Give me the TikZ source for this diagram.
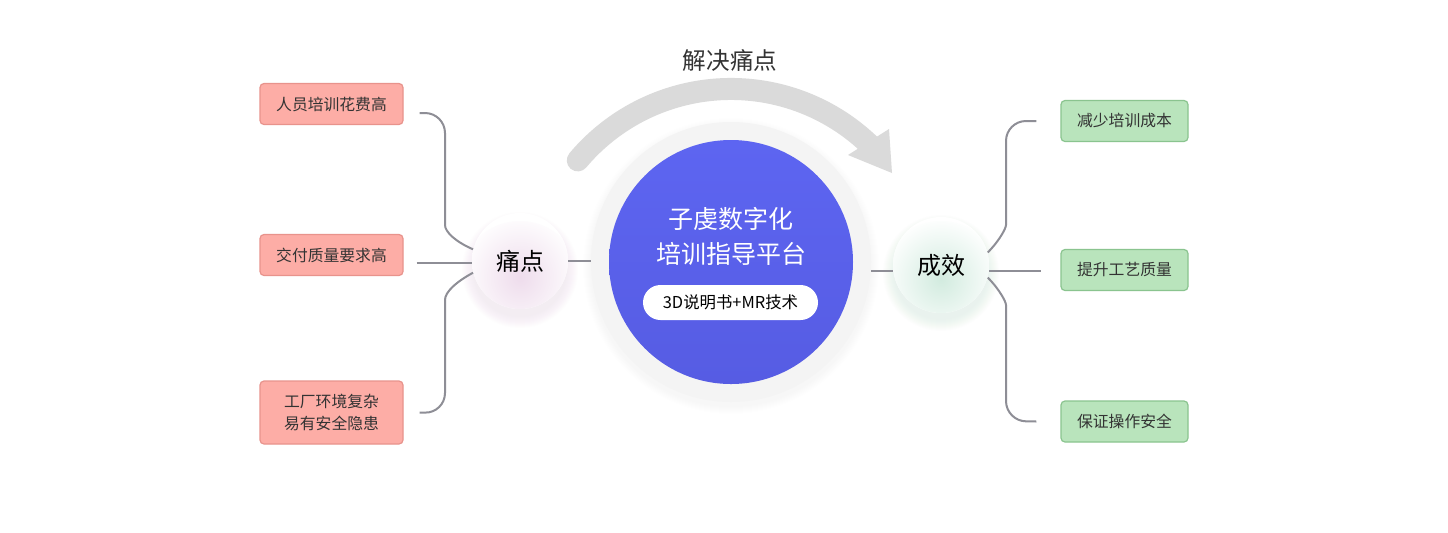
\documentclass[tikz,border=0pt]{standalone}
\usepackage{fontspec}
\setmainfont{Noto Sans CJK SC}
\usetikzlibrary{calc}
\definecolor{txt}{HTML}{333333}
\definecolor{pinkf}{HTML}{FDADA6}
\definecolor{pinkb}{HTML}{E8938C}
\definecolor{greenf}{HTML}{B9E4BC}
\definecolor{greenb}{HTML}{8AC48F}
\definecolor{lineg}{HTML}{8E8E96}
\definecolor{arcg}{HTML}{DADADA}
\definecolor{ringg}{HTML}{F4F4F4}
\definecolor{blueT}{HTML}{5D65F1}
\definecolor{blueB}{HTML}{565CE3}
\definecolor{painT}{HTML}{EEDCEC}
\definecolor{resT}{HTML}{D2EBDF}
\tikzset{
  leftbox/.style={draw=pinkb, fill=pinkf, rounded corners=2pt, line width=0.6pt,
    minimum width=71.5pt, minimum height=20.5pt, inner sep=0pt, align=center,
    text=txt, font=\fontsize{7.9}{11}\selectfont},
  rightbox/.style={leftbox, draw=greenb, fill=greenf, minimum width=63.5pt},
  conn/.style={draw=lineg, line width=1pt},
  hub/.style={circle, minimum size=48pt, inner sep=0pt, fill=white, text=black,
    font=\fontsize{12}{14}\selectfont}
}
\begin{document}
\begin{tikzpicture}[x=0.5pt,y=-0.5pt]
\useasboundingbox (0,0) rectangle (1448,532);
\fill[white] (0,0) rectangle (1448,532);

% title and arc arrow
\node[text=txt, font=\fontsize{11.8}{14}\selectfont] (arctitle) at (730,60) {解决痛点};
\draw[arcg, line width=11pt, line cap=round] (577.8,160.4) arc[start angle=220, end angle=314, radius=200];
\fill[arcg] (848,155) -- (889,129) -- (892,173) -- cycle;

% central ring
\foreach \i in {1,...,8}
  \fill[black, opacity=0.005] (731,266) circle ({140+\i});
\node[circle, minimum size=140pt, inner sep=0pt, fill=ringg] (ring) at (731,262) {};
\node[circle, minimum size=122pt, inner sep=0pt, top color=blueT, bottom color=blueB] (core) at (731,262) {};
\node[align=center, text=white, font=\fontsize{12.5}{17.5}\selectfont] (coretext) at (731,236) {子虔数字化\\培训指导平台};
\node[fill=white, rounded corners=8.75pt, minimum width=87.5pt, minimum height=17.5pt, inner sep=0pt,
  text=black, font=\fontsize{8.2}{10}\selectfont] (pill) at (730.5,302.5) {3D说明书+MR技术};

% hub glows
\foreach \i in {1,...,12}
  \fill[painT!70!gray, opacity=0.02] (520,270) circle ({46+\i});
\foreach \i in {1,...,12}
  \fill[resT!70!gray, opacity=0.02] (941,273) circle ({46+\i});

\node[hub, path picture={\shade[inner color=painT, outer color=white]
   ($(path picture bounding box.center)+(0,-10pt)$) circle (30pt);}] (pain) at (520,261) {痛点};
\node[hub, path picture={\shade[inner color=resT, outer color=white]
   ($(path picture bounding box.center)+(0,-8pt)$) circle (30pt);}] (result) at (941,265) {成效};

% left boxes
\node[leftbox] (b1) at (331.5,104) {人员培训花费高};
\node[leftbox] (b2) at (331.5,255) {交付质量要求高};
\node[leftbox, minimum height=31.5pt] (b3) at (331.5,412.5) {工厂环境复杂\\易有安全隐患};

% right boxes
\node[rightbox] (r1) at (1124.5,121) {减少培训成本};
\node[rightbox] (r2) at (1124.5,270) {提升工艺质量};
\node[rightbox] (r3) at (1124.5,421.5) {保证操作安全};

% left connectors
\draw[conn, rounded corners=10pt] ($(b1.east)+(16,9)$) -- (445,113) -- (445,205)
   .. controls (445,232) and (456,242) .. (pain.166);
\draw[conn] ($(b2.east)+(13,8)$) -- ($(pain.west)+(0,2)$);
\draw[conn, rounded corners=10pt] (pain.194) .. controls (456,282) and (445,292) .. (445,320)
   -- (445,413) -- ($(b3.east)+(16,0)$);

% center links
\draw[conn] (pain.east) -- (pain.east -| ring.west);
\draw[conn] (result.187 -| ring.east) -- (result.187);

% right connectors
\draw[conn, rounded corners=10pt] (result.15) .. controls (1000,240) and (1006,228) .. (1006,205)
   -- (1006,121) -- ($(r1.west)+(-24,0)$);
\draw[conn] (result.-7) -- ($(result.-7 -| r2.west)+(-19,0)$);
\draw[conn, rounded corners=10pt] (result.-15) .. controls (1000,290) and (1006,302) .. (1006,325)
   -- (1006,421) -- ($(r3.west)+(-24,0)$);
\end{tikzpicture}
\end{document}
